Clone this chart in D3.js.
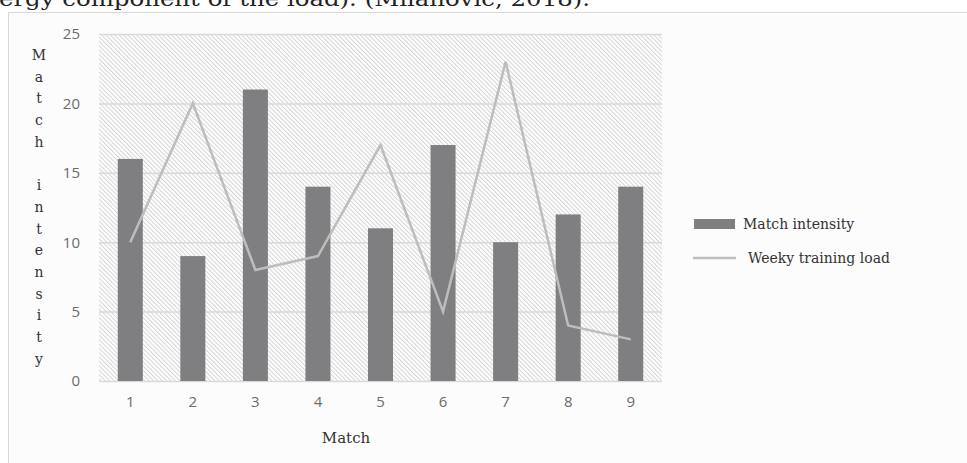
<!DOCTYPE html>
<html>
<head>
<meta charset="utf-8">
<script src="https://cdn.jsdelivr.net/npm/d3@7"></script>
<style>
  body { margin: 0; background: #fff; }
  svg { display: block; }
</style>
</head>
<body>
<div id="chart"></div>
<script>
// chart values
var matches = [1, 2, 3, 4, 5, 6, 7, 8, 9];
var matchIntensity = [16, 9, 21, 14, 11, 17, 10, 12, 14];
var trainingLoad = [10, 20, 8, 9, 17, 5, 23, 4, 3];
var yTicks = [0, 5, 10, 15, 20, 25];
var seriesNames = ["Match intensity", "Weeky training load"];

var width = 967, height = 463;
var plot = { left: 99, right: 662, top: 34, bottom: 381 };

var svg = d3.select("#chart").append("svg")
  .attr("width", width)
  .attr("height", height);

// hatch pattern for plot background
var defs = svg.append("defs");
var pat = defs.append("pattern")
  .attr("id", "hatch")
  .attr("patternUnits", "userSpaceOnUse")
  .attr("width", 3.1)
  .attr("height", 3.1)
  .attr("patternTransform", "rotate(-45)");
pat.append("rect").attr("width", 3.1).attr("height", 3.1).attr("fill", "#fdfdfd");
pat.append("line")
  .attr("x1", 0.5).attr("y1", 0).attr("x2", 0.5).attr("y2", 3.1)
  .attr("stroke", "#d2d2d2")
  .attr("stroke-width", 0.9);

// text cut at top of the page (reference shows it clipped)
svg.append("text")
  .attr("x", -1)
  .attr("y", 6)
  .style("font-family", "'DejaVu Serif', serif")
  .style("font-size", "21px")
  .attr("fill", "#222")
  .attr("textLength", 591)
  .attr("lengthAdjust", "spacingAndGlyphs")
  .text("ergy component of the load). (Milanović, 2018).");

// chart frame
svg.append("rect")
  .attr("x", 8.5)
  .attr("y", 12.5)
  .attr("width", width)
  .attr("height", height)
  .attr("fill", "#fcfcfc")
  .attr("stroke", "#d9d9d9")
  .attr("stroke-width", 1);

var x = d3.scaleBand()
  .domain(matches)
  .range([plot.left, plot.right])
  .paddingInner(0.6)
  .paddingOuter(0.3);

var y = d3.scaleLinear()
  .domain([0, 25])
  .range([plot.bottom, plot.top]);

svg.append("rect")
  .attr("x", plot.left)
  .attr("y", plot.top)
  .attr("width", plot.right - plot.left)
  .attr("height", plot.bottom - plot.top)
  .attr("fill", "url(#hatch)");

// gridlines + y labels
var yAxis = d3.axisLeft(y)
  .tickValues(yTicks)
  .tickSize(-(plot.right - plot.left))
  .tickPadding(19);
var gy = svg.append("g")
  .attr("transform", "translate(" + plot.left + ",0)")
  .call(yAxis);
gy.select(".domain").remove();
gy.selectAll(".tick line").attr("stroke", "#d9d9d9").attr("stroke-width", 1.5);
gy.selectAll(".tick text")
  .attr("fill", "#6b6b6b")
  .style("font-family", "'Open Sans', sans-serif")
  .style("font-size", "15px");

var xAxis = d3.axisBottom(x).tickSize(0).tickPadding(15);
var gx = svg.append("g")
  .attr("transform", "translate(0," + plot.bottom + ")")
  .call(xAxis);
gx.select(".domain").remove();
gx.selectAll(".tick text")
  .attr("fill", "#6b6b6b")
  .style("font-family", "'Open Sans', sans-serif")
  .style("font-size", "15px");

// bars
svg.selectAll(".bar")
  .data(matches)
  .join("rect")
  .attr("class", "bar")
  .attr("x", function(d) { return x(d); })
  .attr("y", function(d, i) { return y(matchIntensity[i]); })
  .attr("width", x.bandwidth())
  .attr("height", function(d, i) { return y(0) - y(matchIntensity[i]); })
  .attr("fill", "#7f7f82");

// line
var line = d3.line()
  .x(function(d, i) { return x(matches[i]) + x.bandwidth() / 2; })
  .y(function(d) { return y(d); });
svg.append("path")
  .datum(trainingLoad)
  .attr("d", line)
  .attr("fill", "none")
  .attr("stroke", "#bdbdbd")
  .attr("stroke-width", 2.5)
  .attr("stroke-linejoin", "miter");

// axis titles
var yTitle = "Match intensity".split("");
svg.append("g").selectAll("text")
  .data(yTitle)
  .join("text")
  .attr("x", 39)
  .attr("y", function(d, i) { return 60 + i * 21.7; })
  .attr("text-anchor", "middle")
  .style("font-family", "'DejaVu Serif', serif")
  .style("font-size", "14px")
  .attr("fill", "#333")
  .text(function(d) { return d; });

svg.append("text")
  .attr("x", 346)
  .attr("y", 443)
  .attr("text-anchor", "middle")
  .style("font-family", "'DejaVu Serif', serif")
  .style("font-size", "15px")
  .attr("fill", "#333")
  .text("Match");

// legend
var legend = svg.append("g");
legend.append("rect")
  .attr("x", 694).attr("y", 219)
  .attr("width", 41).attr("height", 10)
  .attr("fill", "#7f7f82");
legend.append("line")
  .attr("x1", 693).attr("x2", 736)
  .attr("y1", 258).attr("y2", 258)
  .attr("stroke", "#bdbdbd")
  .attr("stroke-width", 2.5);
legend.selectAll(".lt")
  .data(seriesNames)
  .join("text")
  .attr("class", "lt")
  .attr("x", function(d, i) { return i === 0 ? 743 : 748; })
  .attr("y", function(d, i) { return i === 0 ? 229 : 263; })
  .style("font-family", "'DejaVu Serif', serif")
  .style("font-size", "14px")
  .attr("fill", "#333")
  .text(function(d) { return d; });
</script>
</body>
</html>
